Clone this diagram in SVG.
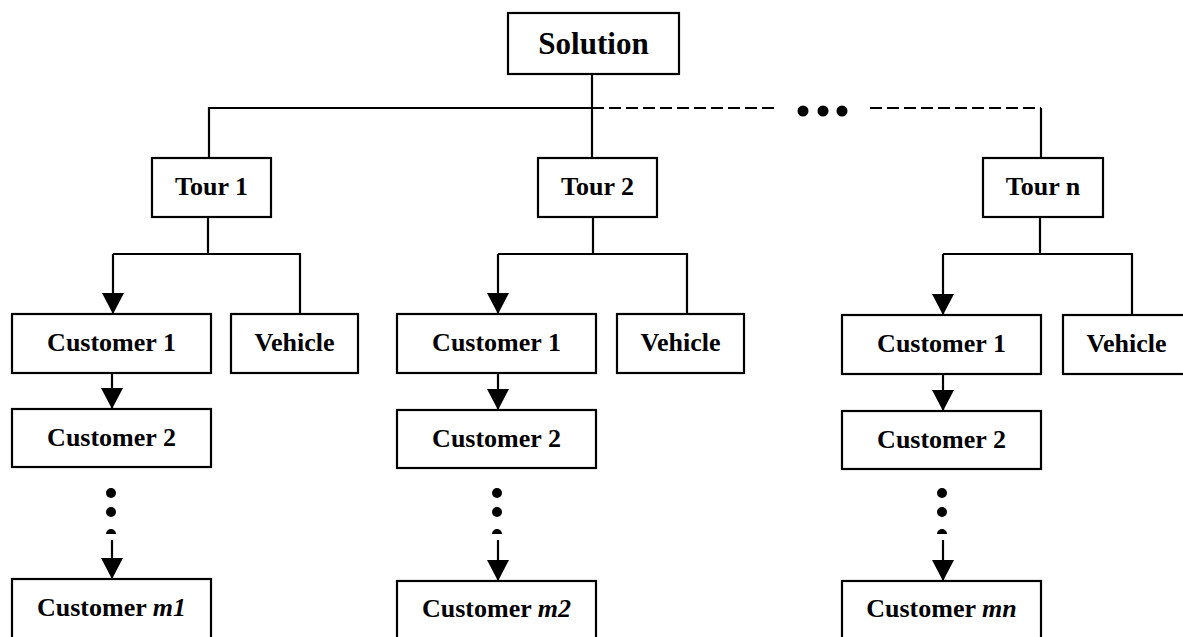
<svg xmlns="http://www.w3.org/2000/svg" width="1183" height="637" viewBox="0 0 1183 637">
<style>
.box{fill:#fff;stroke:#000;stroke-width:2.2}
.lbl{font-family:"Liberation Serif","Times New Roman",serif;font-weight:bold;font-size:26px;fill:#000;text-anchor:middle}
.big{font-size:31px}
.ln{fill:none;stroke:#000;stroke-width:2.2}
.dash{fill:none;stroke:#000;stroke-width:2.2;stroke-dasharray:12 5}
.dot{fill:#000}
</style>
<defs>
<marker id="arr" markerUnits="userSpaceOnUse" markerWidth="22" markerHeight="21" refX="11" refY="21" orient="0" viewBox="0 0 22 21">
<path d="M0,0 L22,0 L11,21 Z" fill="#000"/>
</marker>
</defs>
<rect width="1183" height="637" fill="#fff"/>
<g id="connectors">
<path class="ln" d="M592,74 V158"/>
<path class="ln" d="M209,158 V108 H592"/>
<path class="dash" d="M592,108 H775"/>
<path class="dash" d="M870,108 H1041"/>
<path class="ln" d="M1041,108 V158"/>
<circle class="dot" cx="803" cy="111" r="5.5"/>
<circle class="dot" cx="823" cy="111" r="5.5"/>
<circle class="dot" cx="842" cy="111" r="5.5"/>
<!-- col1 -->
<path class="ln" d="M208,217 V254 M113,254 H300 V314"/>
<path class="ln" d="M113,254 V314" marker-end="url(#arr)"/>
<path class="ln" d="M112,373 V409" marker-end="url(#arr)"/>
<circle class="dot" cx="111" cy="493" r="5"/>
<circle class="dot" cx="111" cy="512" r="5"/>
<path class="dot" d="M106,534 A5,5 0 0 1 116,534 Z"/>
<path class="ln" d="M112,540 V556"/>
<path class="ln" d="M112,556 V579" stroke-width="0" marker-end="url(#arr)"/>
<!-- col2 -->
<path class="ln" d="M593,217 V254 M498,254 H687 V314"/>
<path class="ln" d="M498,254 V314" marker-end="url(#arr)"/>
<path class="ln" d="M498,373 V410" marker-end="url(#arr)"/>
<circle class="dot" cx="497" cy="493" r="5"/>
<circle class="dot" cx="497" cy="512" r="5"/>
<path class="dot" d="M492,534 A5,5 0 0 1 502,534 Z"/>
<path class="ln" d="M498,540 V556"/>
<path class="ln" d="M498,556 V581" stroke-width="0" marker-end="url(#arr)"/>
<!-- col3 -->
<path class="ln" d="M1040,217 V254 M943,254 H1132 V315"/>
<path class="ln" d="M943,254 V315" marker-end="url(#arr)"/>
<path class="ln" d="M943,374 V411" marker-end="url(#arr)"/>
<circle class="dot" cx="942" cy="493" r="5"/>
<circle class="dot" cx="942" cy="512" r="5"/>
<path class="dot" d="M937,534 A5,5 0 0 1 947,534 Z"/>
<path class="ln" d="M943,540 V556"/>
<path class="ln" d="M943,556 V581" stroke-width="0" marker-end="url(#arr)"/>
</g>
<g id="solution"><rect class="box" x="508" y="13" width="171" height="61"/><text class="lbl big" x="593.5" y="54">Solution</text></g>
<g id="tour1"><rect class="box" x="152" y="158" width="119" height="59"/><text class="lbl" x="211.5" y="195">Tour 1</text></g>
<g id="tour2"><rect class="box" x="538" y="158" width="119" height="59"/><text class="lbl" x="597.5" y="195">Tour 2</text></g>
<g id="tourn"><rect class="box" x="983" y="158" width="120" height="59"/><text class="lbl" x="1043" y="195">Tour n</text></g>
<g id="c1_1"><rect class="box" x="12" y="314" width="199" height="59"/><text class="lbl" x="111.5" y="351">Customer 1</text></g>
<g id="v1"><rect class="box" x="231" y="314" width="127" height="59"/><text class="lbl" x="294.5" y="351">Vehicle</text></g>
<g id="c1_2"><rect class="box" x="12" y="409" width="199" height="58"/><text class="lbl" x="111.5" y="446">Customer 2</text></g>
<g id="c1_m"><rect class="box" x="12" y="579" width="199" height="62"/><text class="lbl" x="111.5" y="616">Customer <tspan font-style="italic">m1</tspan></text></g>
<g id="c2_1"><rect class="box" x="397" y="314" width="199" height="59"/><text class="lbl" x="496.5" y="351">Customer 1</text></g>
<g id="v2"><rect class="box" x="617" y="314" width="127" height="59"/><text class="lbl" x="680.5" y="351">Vehicle</text></g>
<g id="c2_2"><rect class="box" x="397" y="410" width="199" height="58"/><text class="lbl" x="496.5" y="447">Customer 2</text></g>
<g id="c2_m"><rect class="box" x="397" y="581" width="199" height="62"/><text class="lbl" x="496.5" y="617">Customer <tspan font-style="italic">m2</tspan></text></g>
<g id="c3_1"><rect class="box" x="842" y="315" width="199" height="59"/><text class="lbl" x="941.5" y="352">Customer 1</text></g>
<g id="v3"><rect class="box" x="1063" y="315" width="127" height="59"/><text class="lbl" x="1126.5" y="352">Vehicle</text></g>
<g id="c3_2"><rect class="box" x="842" y="411" width="199" height="58"/><text class="lbl" x="941.5" y="448">Customer 2</text></g>
<g id="c3_m"><rect class="box" x="842" y="581" width="199" height="62"/><text class="lbl" x="941.5" y="617">Customer <tspan font-style="italic">mn</tspan></text></g>
</svg>
